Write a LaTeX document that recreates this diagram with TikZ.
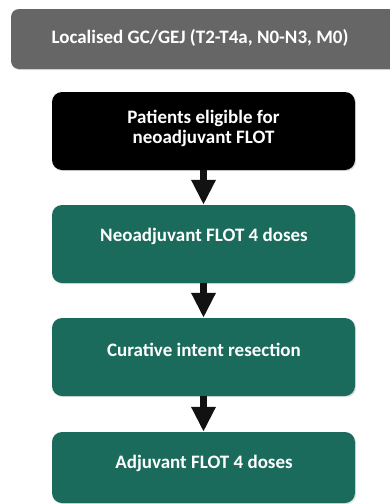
\documentclass[tikz,border=0pt]{standalone}
\usepackage{fontspec}
\setmainfont{Carlito}
\definecolor{flotGreen}{RGB}{26,107,92}
\definecolor{stageGray}{RGB}{102,102,102}
\usetikzlibrary{arrows.meta,positioning,shadows}

\begin{document}
\begin{tikzpicture}[x=1pt,y=-1pt,
    box/.style={minimum width=303pt, minimum height=78pt, rounded corners=10pt,
                inner sep=0pt,
                drop shadow={opacity=0.25, shadow xshift=1.2pt, shadow yshift=-1.2pt}},
    boxtext/.style={font=\fontsize{19}{19.5}\selectfont\bfseries, text=white,
                    align=center},
    flowarrow/.style={line width=7.5pt, draw=black!93,
                      -{Triangle[width=23pt,length=25pt]}}]
  \useasboundingbox (0,0) rectangle (390,504);
  % Stage banner
  \node[box, fill=stageGray, minimum width=390pt, minimum height=60pt,
        rounded corners=8pt] (stage) at (206,39) {};
  \node[boxtext] (stagetext) at (200,38) {Localised GC/GEJ (T2-T4a, N0-N3, M0)};
  % Eligibility
  \node[box, fill=black] (elig) at (203.5,131) {};
  \node[boxtext] (eligtext) at (203.5,128.5) {Patients eligible for\\neoadjuvant FLOT};
  % Treatment steps
  \node[box, fill=flotGreen] (neo) at (203.5,244) {};
  \node[boxtext] (neotext) at (204,236) {Neoadjuvant FLOT 4 doses};
  \node[box, fill=flotGreen] (resect) at (203.5,357) {};
  \node[boxtext] (resecttext) at (204,350) {Curative intent resection};
  \node[box, fill=flotGreen, minimum height=71pt] (adjuv) at (203.5,467.5) {};
  \node[boxtext] (adjuvtext) at (204,463) {Adjuvant FLOT 4 doses};
  % Arrows
  \draw[flowarrow] (elig.south) -- (neo.north);
  \draw[flowarrow] (neo.south) -- (resect.north);
  \draw[flowarrow] (resect.south) -- (adjuv.north);
\end{tikzpicture}
\end{document}
